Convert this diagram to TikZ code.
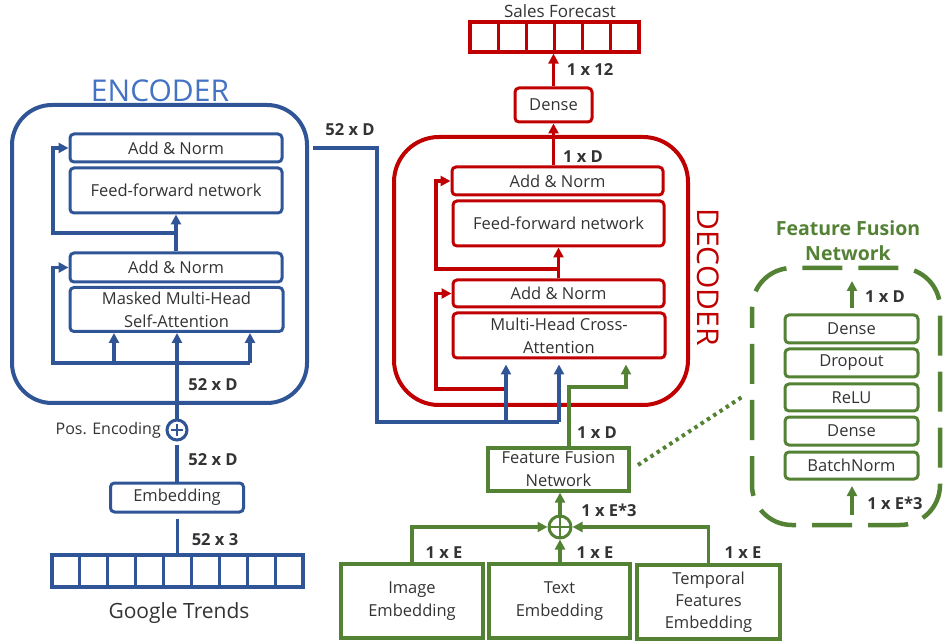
\documentclass[tikz,border=0pt]{standalone}
\usepackage{fontspec}
\setmainfont{Open Sans}
\usetikzlibrary{arrows.meta,calc}
\definecolor{encblue}{HTML}{2F5597}
\definecolor{titleblue}{HTML}{4472C4}
\definecolor{decred}{HTML}{C00000}
\definecolor{ffgreen}{HTML}{548235}
\definecolor{txt}{HTML}{333333}
\begin{document}
\begin{tikzpicture}[x=1pt,y=-1pt,
  blk/.style={draw, rounded corners=4pt, line width=3pt, text=txt, inner sep=0pt, align=center, font=\fontsize{16.5}{18}\selectfont},
  sqblk/.style={blk, rounded corners=0pt},
  lbl/.style={text=txt, font=\bfseries\fontsize{16.5}{18}\selectfont, inner sep=0pt},
  con/.style={line width=3.2pt},
  arr/.style={con, -{Triangle[length=10pt,width=10pt]}},
  cell/.style={draw, line width=3.2pt, inner sep=0pt},
  plusc/.style={circle, draw, line width=3pt, minimum size=20pt, inner sep=0pt}
]
\useasboundingbox (0,0) rectangle (943,644);

% ================= ENCODER =================
\begin{scope}[encblue]
\node[font=\fontsize{30}{32}\selectfont, text=titleblue, inner sep=0pt] (enctitle) at (160,91) {ENCODER};
\draw[line width=4pt, rounded corners=40pt] (12,105) rectangle (307,403);
\node[blk, minimum width=212pt, minimum height=28pt] (eAN1) at (176,148) {Add \& Norm};
\node[blk, minimum width=212pt, minimum height=45pt] (eFF) at (176,190.5) {Feed-forward network};
\node[blk, minimum width=212pt, minimum height=29pt] (eAN2) at (176,267.5) {Add \& Norm};
\node[blk, minimum width=213pt, minimum height=44pt, font=\fontsize{16.5}{23}\selectfont] (eMH) at (176.5,309.5) {Masked Multi-Head\\Self-Attention};

\coordinate (eTop) at (176,233);
\coordinate (eTL) at (53,233);
\coordinate (eBL) at (53,363);
\coordinate (eBM) at (114,363);
\coordinate (eBR) at (250,363);

\draw[arr] (eAN2.north) -- (eFF.south);
\draw[arr] (eTop) -- (eTL) -- (eTL |- eAN1.west) -- (eAN1.west);
\draw[arr] (eBR) -- (eBL) -- (eBL |- eAN2.west) -- (eAN2.west);
\draw[arr] (eBM) -- (eBM |- eMH.south);
\draw[arr] (eBR) -- (eBR |- eMH.south);

\node[plusc] (pe) at (177,430) {};
\draw[line width=2.6pt] ($(pe.center)+(-6,0)$) -- ($(pe.center)+(6,0)$);
\draw[line width=2.6pt] ($(pe.center)+(0,-6)$) -- ($(pe.center)+(0,6)$);
\node[anchor=east, text=txt, font=\fontsize{16}{18}\selectfont, inner sep=0pt] (pelbl) at (161,430) {Pos. Encoding};
\draw[arr] (pe.north) -- (pe.north |- eMH.south);

\node[blk, minimum width=133pt, minimum height=29pt] (emb) at (177,497.5) {Embedding};
\draw[con, shorten >=3pt] (emb.north) -- (pe.south);

\node[cell, minimum width=251pt, minimum height=32pt] (gt) at (177.5,571) {};
\foreach \i in {1,...,8} { \draw[line width=3.2pt] ({52+\i*27.89},555) -- ({52+\i*27.89},587); }
\draw[con, shorten >=5pt] (gt.north) -- (gt.north |- emb.south);
\node[text=txt, font=\fontsize{21}{23}\selectfont, inner sep=0pt] (gtlbl) at (179,613) {Google Trends};
\end{scope}

\node[lbl] (l52a) at (213,385) {52 x D};
\node[lbl] (l52b) at (213,460) {52 x D};
\node[lbl] (l523) at (215,540) {52 x 3};

% ================= DECODER =================
\begin{scope}[decred]
\draw[line width=4pt, rounded corners=45pt] (394,137) rectangle (688,405);
\node[font=\fontsize{30}{32}\selectfont, rotate=-90, inner sep=0pt] (dectitle) at (708,277) {DECODER};
\node[blk, minimum width=211pt, minimum height=28pt] (dAN1) at (557.5,181) {Add \& Norm};
\node[blk, minimum width=211pt, minimum height=45pt] (dFF) at (558.5,223.5) {Feed-forward network};
\node[blk, minimum width=211pt, minimum height=27pt] (dAN2) at (558.5,293.5) {Add \& Norm};
\node[blk, minimum width=212pt, minimum height=45pt, font=\fontsize{16.5}{23}\selectfont] (dMH) at (559,335.5) {Multi-Head Cross-\\Attention};

\coordinate (dTop) at (558,269);
\coordinate (dTL) at (436,269);
\coordinate (dBL) at (436,389);
\coordinate (dBR) at (506,389);
\draw[arr] (dAN2.north) -- (dAN2.north |- dFF.south);
\draw[arr] (dTop) -- (dTL) -- (dTL |- dAN1.west) -- (dAN1.west);
\draw[arr] (dBR) -- (dBL) -- (dBL |- dAN2.west) -- (dAN2.west);

\node[blk, minimum width=77pt, minimum height=34pt] (dense) at (553.5,105) {Dense};
\draw[arr] (dense.south |- dAN1.north) -- (dense.south);
\node[cell, minimum width=169pt, minimum height=30pt] (sf) at (554.5,37) {};
\foreach \i in {1,...,5} { \draw[line width=3.2pt] ({470+\i*28.17},22) -- ({470+\i*28.17},52); }
\draw[arr] (dense.north) -- (sf.south -| dense.north);
\node[text=txt, font=\fontsize{17}{19}\selectfont, inner sep=0pt] (sflbl) at (560,11) {Sales Forecast};
\end{scope}
\node[lbl] (l1d) at (583,157) {1 x D};
\node[lbl] (l112) at (590,70) {1 x 12};

% encoder -> decoder
\coordinate (bS) at (313,148);
\coordinate (bC1) at (377,148);
\coordinate (bC2) at (377,422);
\coordinate (bA) at (506,422);
\coordinate (bB) at (559,422);
\draw[con, encblue] (bS) -- (bC1) -- (bC2) -- (bB);
\draw[arr, encblue, shorten >=5pt] (bA) -- (bA |- dMH.south);
\draw[arr, encblue, shorten >=5pt] (bB) -- (bB |- dMH.south);
\node[lbl] (l52c) at (350,130) {52 x D};

% ================= FEATURE FUSION =================
\begin{scope}[ffgreen]
\node[sqblk, line width=3.2pt, minimum width=141pt, minimum height=43pt, font=\fontsize{16.5}{23}\selectfont] (ffn) at (558.5,469.5) {Feature Fusion\\Network};
\coordinate (gC1) at (569,387);
\coordinate (gC2) at (626,387);
\draw[arr, shorten >=5pt] (ffn.north -| gC1) -- (gC1) -- (gC2) -- (gC2 |- dMH.south);

\node[plusc, minimum size=22pt] (fp) at (560,527) {};
\draw[line width=2.6pt] ($(fp.center)+(-11,0)$) -- ($(fp.center)+(11,0)$);
\draw[line width=2.6pt] ($(fp.center)+(0,-11)$) -- ($(fp.center)+(0,11)$);
\draw[arr] (fp.north) -- (ffn.south -| fp.north);

\node[sqblk, line width=3.2pt, minimum width=142pt, minimum height=74pt, font=\fontsize{16.5}{23}\selectfont] (img) at (412,601) {Image\\Embedding};
\node[sqblk, line width=3.2pt, minimum width=141pt, minimum height=74pt, font=\fontsize{16.5}{23}\selectfont] (txe) at (559.5,601) {Text\\Embedding};
\node[sqblk, line width=3.2pt, minimum width=143pt, minimum height=74pt, font=\fontsize{16.5}{22}\selectfont] (tmp) at (708.5,602) {Temporal\\Features\\Embedding};
\draw[arr] (img.north) |- (fp.west);
\draw[arr] (tmp.north) |- (fp.east);
\draw[arr] (txe.north -| fp.south) -- (fp.south);

% detail box
\node[font=\bfseries\fontsize{19.5}{25}\selectfont, align=center, inner sep=0pt] (fftitle) at (848,240.5) {Feature Fusion\\Network};
\draw[line width=4.5pt, rounded corners=40pt, dash pattern=on 40pt off 16pt, dash phase=20pt] (752,268) rectangle (940,525);
\node[blk, minimum width=133pt, minimum height=28pt] (fD1) at (851.5,329) {Dense};
\node[blk, minimum width=133pt, minimum height=28pt] (fDo) at (851.5,363) {Dropout};
\node[blk, minimum width=133pt, minimum height=27pt] (fRe) at (851.5,397.5) {ReLU};
\node[blk, minimum width=133pt, minimum height=28pt] (fD2) at (851.5,431) {Dense};
\node[blk, minimum width=133pt, minimum height=27pt] (fBN) at (851.5,465.5) {BatchNorm};
\coordinate (fOutA) at (852,308);
\coordinate (fOutB) at (852,281);
\coordinate (fInA) at (852,515);
\coordinate (fInB) at (852,486);
\draw[arr] (fOutA) -- (fOutB);
\draw[arr] (fInA) -- (fInB);
\coordinate (dotA) at (638,465);
\coordinate (dotB) at (742,397);
\draw[line width=4pt, dash pattern=on 3.5pt off 4pt] (dotA) -- (dotB);
\end{scope}
\node[lbl] (l1dg) at (597,433) {1 x D};
\node[lbl] (le3) at (609,510) {1 x E*3};
\node[lbl] (le1) at (444,553) {1 x E};
\node[lbl] (le2) at (595,553) {1 x E};
\node[lbl] (le3b) at (743,553) {1 x E};
\node[lbl] (lfd) at (885,297) {1 x D};
\node[lbl] (lfe) at (895,503) {1 x E*3};
\end{tikzpicture}
\end{document}
